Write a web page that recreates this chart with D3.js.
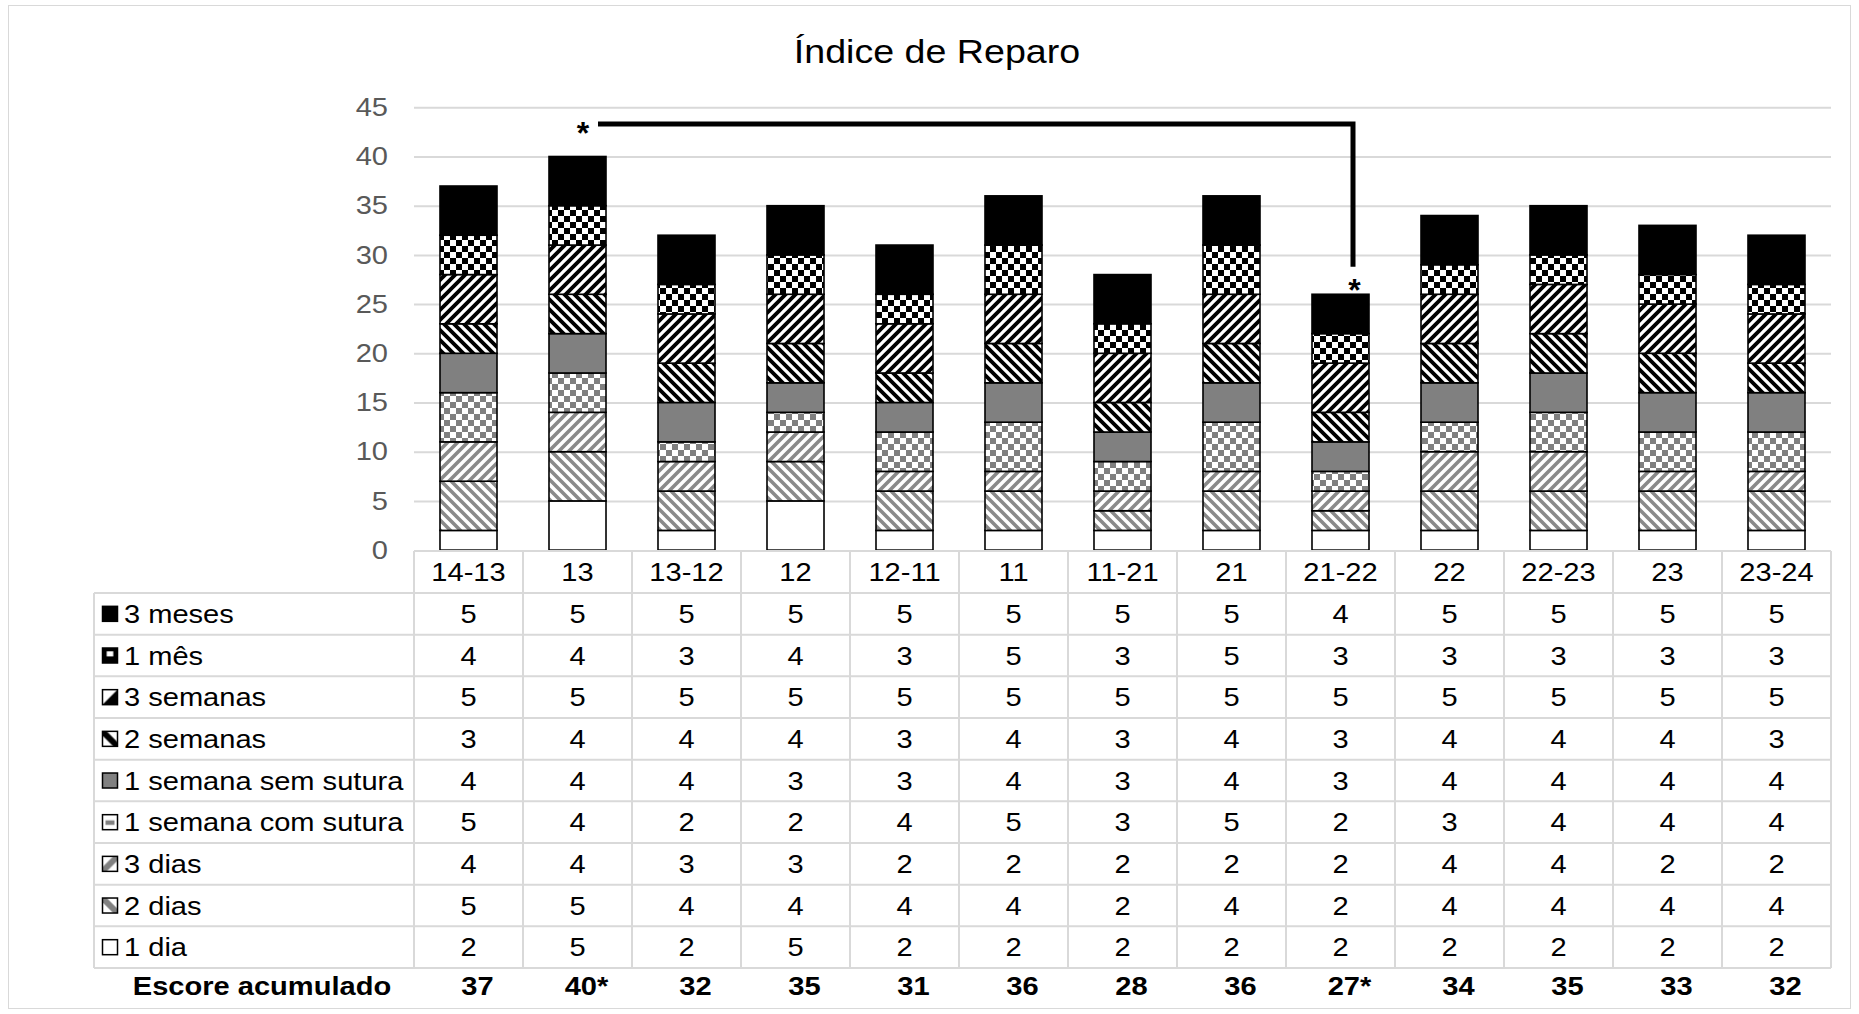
<!DOCTYPE html>
<html>
<head>
<meta charset="utf-8">
<script src="https://cdn.jsdelivr.net/npm/d3@7"></script>
<style>
  html, body { margin: 0; padding: 0; background: #fff; }
  svg { display: block; }
  text { font-family: "Liberation Sans", Arial, sans-serif; }
</style>
</head>
<body>
<script>
// ---- data -------------------------------------------------------------
const categories = ["14-13", "13", "13-12", "12", "12-11", "11", "11-21", "21", "21-22", "22", "22-23", "23", "23-24"];

// stacking order, bottom to top
const seriesNames = ["1 dia", "2 dias", "3 dias", "1 semana com sutura", "1 semana sem sutura",
                     "2 semanas", "3 semanas", "1 mês", "3 meses"];

const dia1          = [2, 5, 2, 5, 2, 2, 2, 2, 2, 2, 2, 2, 2];
const dias2         = [5, 5, 4, 4, 4, 4, 2, 4, 2, 4, 4, 4, 4];
const dias3         = [4, 4, 3, 3, 2, 2, 2, 2, 2, 4, 4, 2, 2];
const semanaCom     = [5, 4, 2, 2, 4, 5, 3, 5, 2, 3, 4, 4, 4];
const semanaSem     = [4, 4, 4, 3, 3, 4, 3, 4, 3, 4, 4, 4, 4];
const semanas2      = [3, 4, 4, 4, 3, 4, 3, 4, 3, 4, 4, 4, 3];
const semanas3      = [5, 5, 5, 5, 5, 5, 5, 5, 5, 5, 5, 5, 5];
const mes1          = [4, 4, 3, 4, 3, 5, 3, 5, 3, 3, 3, 3, 3];
const meses3        = [5, 5, 5, 5, 5, 5, 5, 5, 4, 5, 5, 5, 5];

const totalLabels   = ["37", "40*", "32", "35", "31", "36", "28", "36", "27*", "34", "35", "33", "32"];
const yTickValues   = [0, 5, 10, 15, 20, 25, 30, 35, 40, 45];

const chartTitle = "Índice de Reparo";
const totalTitle = "Escore acumulado";

// significance bracket between the two starred groups
const bracketFrom = "13";
const bracketTo = "21-22";
const bracketLevel = 43.3;
const bracketDrop = 28.8;

// ---- layout -----------------------------------------------------------
const W = 1859, H = 1014;
const plotLeft = 414, plotRight = 1831;
const plotTop = 107.3, plotBottom = 550.1;
const tableTop = 551, headerH = 42, rowH = 41.67;
const legendLeft = 94;
const SX = 1.14;               // horizontal text stretch
const FS = 25.5;               // table / axis font size

const seriesValues = [dia1, dias2, dias3, semanaCom, semanaSem, semanas2, semanas3, mes1, meses3];
const seriesFill = ["#ffffff", "url(#downGray)", "url(#upGray)", "url(#checkGray)", "#808080",
                    "url(#downBlack)", "url(#upBlack)", "url(#checkBlack)", "#000000"];
const iconFill = ["#ffffff", "url(#iDownGray)", "url(#iUpGray)", "url(#iCheckGray)", "#808080",
                  "url(#iDownBlack)", "url(#iUpBlack)", "url(#iCheckBlack)", "#000000"];

const rows = categories.map((c, i) => {
  const r = { cat: c };
  seriesNames.forEach((s, k) => { r[s] = seriesValues[k][i]; });
  return r;
});

const svg = d3.select("body").append("svg").attr("width", W).attr("height", H);

// ---- patterns ---------------------------------------------------------
const defs = svg.append("defs");
function diag(id, color, dir, sw) {
  const p = defs.append("pattern").attr("id", id).attr("patternUnits", "userSpaceOnUse")
    .attr("width", 10).attr("height", 10);
  p.append("rect").attr("width", 10).attr("height", 10).attr("fill", "#fff");
  const d = dir === "down"
    ? "M-5,5 L5,15 M0,0 L10,10 M5,-5 L15,5"
    : "M-5,5 L5,-5 M0,10 L10,0 M5,15 L15,5";
  p.append("path").attr("d", d).attr("stroke", color).attr("stroke-width", sw);
}
function checker(id, color) {
  const s = 6;
  const p = defs.append("pattern").attr("id", id).attr("patternUnits", "userSpaceOnUse")
    .attr("width", 2 * s).attr("height", 2 * s);
  p.append("rect").attr("width", 2 * s).attr("height", 2 * s).attr("fill", "#fff");
  p.append("rect").attr("width", s).attr("height", s).attr("fill", color).attr("shape-rendering", "crispEdges");
  p.append("rect").attr("x", s).attr("y", s).attr("width", s).attr("height", s).attr("fill", color).attr("shape-rendering", "crispEdges");
}
diag("downGray", "#8a8a8a", "down", 3.6);
diag("upGray", "#8a8a8a", "up", 3.6);
diag("downBlack", "#000", "down", 3.8);
diag("upBlack", "#000", "up", 3.8);
checker("checkGray", "#808080");
checker("checkBlack", "#000");

// small legend key swatches
function iconPattern(id, draw) {
  const p = defs.append("pattern").attr("id", id)
    .attr("patternUnits", "objectBoundingBox").attr("patternContentUnits", "objectBoundingBox")
    .attr("width", 1).attr("height", 1);
  p.append("rect").attr("width", 1).attr("height", 1).attr("fill", "#fff");
  draw(p);
}
iconPattern("iDownGray", p => p.append("path").attr("d", "M0,0 L1,1").attr("stroke", "#808080").attr("stroke-width", 0.4));
iconPattern("iUpGray", p => p.append("path").attr("d", "M0,1 L1,0").attr("stroke", "#808080").attr("stroke-width", 0.4));
iconPattern("iDownBlack", p => p.append("path").attr("d", "M0,0 L1,1").attr("stroke", "#000").attr("stroke-width", 0.4));
iconPattern("iUpBlack", p => p.append("path").attr("d", "M0,1 L1,0 L1,1 Z").attr("fill", "#000"));
iconPattern("iCheckGray", p => p.append("rect").attr("x", 0.2).attr("y", 0.38).attr("width", 0.6).attr("height", 0.3).attr("fill", "#808080"));
iconPattern("iCheckBlack", p => {
  p.append("rect").attr("width", 1).attr("height", 1).attr("fill", "#000");
  p.append("rect").attr("x", 0.28).attr("y", 0.22).attr("width", 0.44).attr("height", 0.34).attr("fill", "#fff");
});

// ---- scales -----------------------------------------------------------
const y = d3.scaleLinear().domain([0, 45]).range([plotBottom, plotTop]);
const xBar = d3.scaleBand().domain(categories).range([plotLeft, plotRight])
  .paddingInner(0.477).paddingOuter(0.2385);
const xCol = d3.scaleBand().domain(categories).range([plotLeft, plotRight]).padding(0);

function place(sel, x, yy) {
  return sel.attr("transform", `translate(${x},${yy}) scale(${SX},1)`);
}

// outer frame
svg.append("rect").attr("x", 8.5).attr("y", 5.5).attr("width", W - 17).attr("height", H - 11)
  .attr("fill", "none").attr("stroke", "#d9d9d9").attr("stroke-width", 1);

// title
place(svg.append("text"), 937, 63).attr("text-anchor", "middle")
  .attr("font-size", 33).attr("fill", "#000").text(chartTitle);

// gridlines
const grid = svg.append("g").attr("transform", `translate(${plotLeft},0)`)
  .call(d3.axisLeft(y).tickValues(yTickValues.slice(1)).tickSize(-(plotRight - plotLeft)).tickFormat(""));
grid.select(".domain").remove();
grid.selectAll("line").attr("stroke", "#d9d9d9").attr("stroke-width", 2);

// y axis labels
const yAxis = svg.append("g").attr("transform", `translate(${plotLeft},0)`)
  .call(d3.axisLeft(y).tickValues(yTickValues).tickSize(0).tickPadding(22.8));
yAxis.select(".domain").remove();
yAxis.selectAll("text").attr("font-size", FS).attr("fill", "#595959")
  .attr("font-family", '"Liberation Sans", Arial, sans-serif')
  .attr("transform", `scale(${SX},1)`);

// stacked bars
const stacked = d3.stack().keys(seriesNames)(rows);
const barG = svg.append("g");
stacked.forEach((layer, k) => {
  barG.selectAll(null).data(layer).enter().append("rect")
    .attr("x", d => xBar(d.data.cat))
    .attr("width", xBar.bandwidth())
    .attr("y", d => y(d[1]))
    .attr("height", d => y(d[0]) - y(d[1]))
    .attr("fill", seriesFill[k])
    .attr("stroke", "#000").attr("stroke-width", 1.6);
});

// significance bracket
const cx = c => xBar(c) + xBar.bandwidth() / 2;
svg.append("path")
  .attr("d", `M${cx(bracketFrom) + 20.5},${y(bracketLevel)} H${cx(bracketTo) + 12.5} V${y(bracketDrop)}`)
  .attr("fill", "none").attr("stroke", "#000").attr("stroke-width", 5);
svg.append("text").attr("x", cx(bracketFrom) + 5.5).attr("y", y(bracketLevel) + 20)
  .attr("text-anchor", "middle").attr("font-size", 32).attr("font-weight", "bold").text("*");
svg.append("text").attr("x", cx(bracketTo) + 14).attr("y", y(bracketDrop) + 34)
  .attr("text-anchor", "middle").attr("font-size", 32).attr("font-weight", "bold").text("*");

// ---- data table -------------------------------------------------------
const tableRows = seriesNames.slice().reverse();
const tableVals = seriesValues.slice().reverse();
const iconF = iconFill.slice().reverse();
const bodyTop = tableTop + headerH;
const tableBottom = bodyTop + tableRows.length * rowH;
const lines = svg.append("g").attr("stroke", "#d9d9d9").attr("stroke-width", 2);

lines.append("line").attr("x1", plotLeft).attr("x2", plotRight).attr("y1", tableTop).attr("y2", tableTop);
for (let r = 0; r <= tableRows.length; r++) {
  const yy = bodyTop + r * rowH;
  lines.append("line").attr("x1", legendLeft).attr("x2", plotRight).attr("y1", yy).attr("y2", yy);
}
lines.append("line").attr("x1", legendLeft).attr("x2", legendLeft).attr("y1", bodyTop).attr("y2", tableBottom);
categories.forEach(c => {
  lines.append("line").attr("x1", xCol(c)).attr("x2", xCol(c)).attr("y1", tableTop).attr("y2", tableBottom);
});
lines.append("line").attr("x1", plotRight).attr("x2", plotRight).attr("y1", tableTop).attr("y2", tableBottom);

const colCenter = c => xCol(c) + xCol.bandwidth() / 2;

// category header
categories.forEach(c => {
  place(svg.append("text"), colCenter(c), tableTop + headerH / 2 + 9)
    .attr("text-anchor", "middle").attr("font-size", FS).attr("fill", "#000").text(c);
});

// rows: key, label, values
tableRows.forEach((name, r) => {
  const mid = bodyTop + r * rowH + rowH / 2;
  svg.append("rect").attr("x", 102.5).attr("y", mid - 7.5).attr("width", 15).attr("height", 15)
    .attr("fill", iconF[r]).attr("stroke", "#000").attr("stroke-width", 1.5);
  place(svg.append("text"), 124, mid + 9).attr("font-size", FS).attr("fill", "#000").text(name);
  categories.forEach((c, i) => {
    place(svg.append("text"), colCenter(c), mid + 9)
      .attr("text-anchor", "middle").attr("font-size", FS).attr("fill", "#000").text(tableVals[r][i]);
  });
});

// accumulated score row
place(svg.append("text"), 262, 995).attr("text-anchor", "middle")
  .attr("font-size", FS).attr("font-weight", "bold").attr("fill", "#000").text(totalTitle);
categories.forEach((c, i) => {
  place(svg.append("text"), colCenter(c) + 9, 995).attr("text-anchor", "middle")
    .attr("font-size", FS).attr("font-weight", "bold").attr("fill", "#000").text(totalLabels[i]);
});
</script>
</body>
</html>
